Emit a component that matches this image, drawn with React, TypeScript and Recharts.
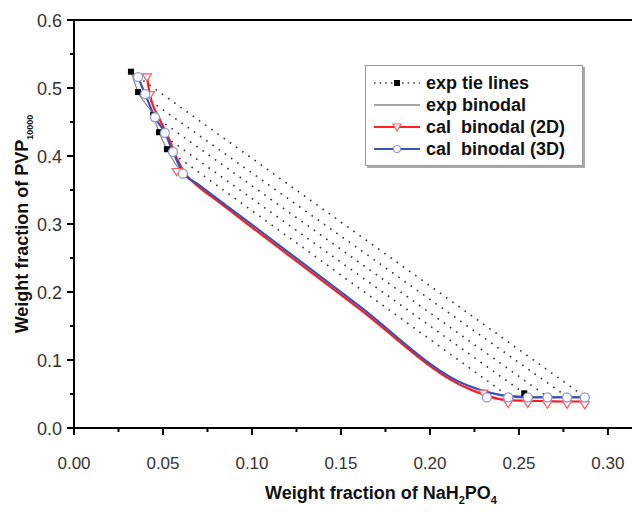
import React from 'react';
import { ComposedChart, Line, Scatter, XAxis, YAxis, ReferenceLine, Legend } from 'recharts';

const FONT = '"Liberation Sans", Arial, sans-serif';

// axis ticks
const xAllTicks = [0, 0.025, 0.05, 0.075, 0.1, 0.125, 0.15, 0.175, 0.2, 0.225, 0.25, 0.275, 0.3, 0.325];
const yAllTicks = [0, 0.05, 0.1, 0.15, 0.2, 0.25, 0.3, 0.35, 0.4, 0.45, 0.5, 0.55, 0.6];

// exp tie lines (top phase / bottom phase)
const tieTopX = [0.032, 0.036, 0.0444, 0.0478, 0.0522];
const tieTopY = [0.524, 0.494, 0.46, 0.435, 0.41];
const tieBotX = [0.287, 0.277, 0.266, 0.253, 0.244];
const tieBotY = [0.046, 0.046, 0.046, 0.051, 0.047];

// exp binodal
const expBinX = [0.032, 0.036, 0.0444, 0.0478, 0.0522, 0.06, 0.07, 0.08, 0.101, 0.158, 0.221, 0.243, 0.253, 0.266, 0.277, 0.287];
const expBinY = [0.524, 0.494, 0.46, 0.435, 0.41, 0.378, 0.358, 0.338, 0.297, 0.184, 0.063, 0.048, 0.047, 0.046, 0.046, 0.046];

// calculated binodal (2D)
const red2DX = [0.041, 0.0427, 0.048, 0.053, 0.0577, 0.062, 0.07, 0.08, 0.101, 0.158, 0.2215, 0.243, 0.255, 0.266, 0.277, 0.287];
const red2DY = [0.516, 0.49, 0.455, 0.428, 0.397, 0.376, 0.355, 0.335, 0.293, 0.18, 0.058, 0.041, 0.04, 0.0395, 0.039, 0.039];
const red2DMarkX = [0.041, 0.0427, 0.0577, 0.23, 0.244, 0.255, 0.266, 0.277, 0.287];
const red2DMarkY = [0.516, 0.49, 0.377, 0.051, 0.036, 0.036, 0.035, 0.035, 0.034];

// calculated binodal (3D)
const blue3DX = [0.036, 0.04, 0.0455, 0.0511, 0.0556, 0.0612, 0.07, 0.08, 0.101, 0.158, 0.2215, 0.243, 0.255, 0.266, 0.277, 0.287];
const blue3DY = [0.516, 0.491, 0.457, 0.434, 0.406, 0.376, 0.358, 0.338, 0.297, 0.184, 0.062, 0.047, 0.045, 0.045, 0.045, 0.045];
const blue3DMarkX = [0.036, 0.04, 0.0455, 0.0511, 0.0556, 0.0612, 0.232, 0.244, 0.255, 0.266, 0.277, 0.287];
const blue3DMarkY = [0.516, 0.491, 0.457, 0.434, 0.406, 0.374, 0.045, 0.045, 0.045, 0.045, 0.045, 0.045];

const zip = (xs: number[], ys: number[]) => xs.map((x, i) => ({ x, y: ys[i] }));

const tieLines = tieTopX.map((_, i) => [
  { x: tieTopX[i], y: tieTopY[i] },
  { x: tieBotX[i], y: tieBotY[i] },
]);
const expSquares = [...zip(tieTopX, tieTopY), ...zip(tieBotX, tieBotY)];

const TICK_SIZE = 8;
const TICK_MARGIN = 2;

const isMajor = (v: number, step: number) => Math.abs(v / step - Math.round(v / step)) < 1e-6;

const XTick = (props: any) => {
  const { x, y, payload } = props;
  const axisY = y - TICK_SIZE - TICK_MARGIN;
  const major = isMajor(payload.value, 0.05);
  return (
    <g>
      <line x1={x} x2={x} y1={axisY} y2={axisY + (major ? 7 : 4)} stroke="#000" strokeWidth={2} />
      {major && (
        <text x={x} y={axisY + 41} textAnchor="middle" fontFamily={FONT} fontSize={17} fill="#333">
          {payload.value.toFixed(2)}
        </text>
      )}
    </g>
  );
};

const YTick = (props: any) => {
  const { x, y, payload } = props;
  const axisX = x + TICK_SIZE + TICK_MARGIN;
  const major = isMajor(payload.value, 0.1);
  return (
    <g>
      <line x1={axisX} x2={axisX - (major ? 7 : 4)} y1={y} y2={y} stroke="#000" strokeWidth={2} />
      {major && (
        <text x={axisX - 12} y={y + 6.5} textAnchor="end" fontFamily={FONT} fontSize={18} fill="#333">
          {payload.value.toFixed(1)}
        </text>
      )}
    </g>
  );
};

const XTitle = (props: any) => {
  const vb = props.viewBox || {};
  const cx = vb.x + vb.width / 2;
  const baseY = vb.y + 71;
  return (
    <text x={cx} y={baseY} textAnchor="middle" fontFamily={FONT} fontWeight="bold" fontSize={18} fill="#111">
      Weight fraction of NaH
      <tspan fontSize={11} dy={5}>2</tspan>
      <tspan dy={-5}>PO</tspan>
      <tspan fontSize={11} dy={5}>4</tspan>
    </text>
  );
};

const YTitle = (props: any) => {
  const vb = props.viewBox || {};
  const cy = vb.y + vb.height / 2;
  const bx = 28;
  return (
    <text
      x={bx}
      y={cy}
      transform={`rotate(-90 ${bx} ${cy})`}
      textAnchor="middle"
      fontFamily={FONT}
      fontWeight="bold"
      fontSize={18}
      fill="#111"
    >
      Weight fraction of PVP
      <tspan fontSize={9} dy={5}>10000</tspan>
    </text>
  );
};

const Square = (props: any) => {
  const { cx, cy } = props;
  return <rect x={cx - 3} y={cy - 3} width={6} height={6} fill="#000" />;
};

const Tri = (props: any) => {
  const { cx, cy } = props;
  const s = 4.5;
  return (
    <polygon
      points={`${cx - s},${cy - s * 0.7} ${cx + s},${cy - s * 0.7} ${cx},${cy + s * 0.9}`}
      fill="#fff"
      stroke="#ff5a5a"
      strokeWidth={1.2}
    />
  );
};

const Circ = (props: any) => {
  const { cx, cy } = props;
  return <circle cx={cx} cy={cy} r={4.5} fill="#fff" stroke="#8898e0" strokeWidth={1.3} />;
};

const legendRows = [
  { label: 'exp tie lines', kind: 'tie' },
  { label: 'exp binodal', kind: 'bin' },
  { label: 'cal  binodal (2D)', kind: 'red' },
  { label: 'cal  binodal (3D)', kind: 'blue' },
];

const LegendIcon = ({ kind }: { kind: string }) => {
  return (
    <svg width={48} height={14} style={{ display: 'block' }}>
      {kind === 'tie' && (
        <>
          <line x1={1} x2={47} y1={7} y2={7} stroke="#444" strokeWidth={1.6} strokeDasharray="1.6 4" />
          <rect x={21} y={4} width={6} height={6} fill="#000" />
        </>
      )}
      {kind === 'bin' && <line x1={1} x2={47} y1={7} y2={7} stroke="#888" strokeWidth={1.4} />}
      {kind === 'red' && (
        <>
          <line x1={1} x2={47} y1={7} y2={7} stroke="#ff2020" strokeWidth={2} />
          <polygon points="20,4 28,4 24,11" fill="#fff" stroke="#ff5a5a" strokeWidth={1.2} />
        </>
      )}
      {kind === 'blue' && (
        <>
          <line x1={1} x2={47} y1={7} y2={7} stroke="#3a52b8" strokeWidth={2} />
          <circle cx={24} cy={7} r={3.5} fill="#fff" stroke="#8898e0" strokeWidth={1.2} />
        </>
      )}
    </svg>
  );
};

const LegendBox = () => (
  <div
    style={{
      border: '1px solid #999',
      boxShadow: '2px 2px 0 #aaa',
      background: '#fff',
      padding: '6px 6px 5px 7px',
      fontFamily: FONT,
      fontWeight: 'bold',
      fontSize: 18,
      color: '#111',
      boxSizing: 'border-box',
      width: 218,
    }}
  >
    {legendRows.map((r) => (
      <div key={r.label} style={{ display: 'flex', alignItems: 'center', height: 22, whiteSpace: 'pre' }}>
        <LegendIcon kind={r.kind} />
        <span style={{ marginLeft: 5 }}>{r.label}</span>
      </div>
    ))}
  </div>
);

export default function App() {
  return (
    <div style={{ position: 'absolute', left: 0, top: 0, width: 632, height: 521, overflow: 'hidden', background: '#fff' }}>
      <ComposedChart width={688} height={521} margin={{ top: 20, right: 0, bottom: 0, left: 0 }}>
        <XAxis
          type="number"
          dataKey="x"
          domain={[0, 0.345]}
          ticks={xAllTicks}
          interval={0}
          allowDataOverflow
          height={93}
          tickSize={TICK_SIZE}
          tickMargin={TICK_MARGIN}
          tickLine={false}
          axisLine={{ stroke: '#000', strokeWidth: 2 }}
          tick={<XTick />}
          label={<XTitle />}
        />
        <YAxis
          type="number"
          dataKey="y"
          domain={[0, 0.6]}
          ticks={yAllTicks}
          interval={0}
          allowDataOverflow
          width={74}
          tickSize={TICK_SIZE}
          tickMargin={TICK_MARGIN}
          tickLine={false}
          axisLine={{ stroke: '#000', strokeWidth: 2 }}
          tick={<YTick />}
          label={<YTitle />}
        />
        <ReferenceLine y={0.6} stroke="#000" strokeWidth={2} />
        {tieLines.map((d, i) => (
          <Line
            key={'tie' + i}
            data={d}
            dataKey="y"
            type="linear"
            stroke="#333"
            strokeWidth={1.6}
            strokeDasharray="1.6 6"
            dot={false}
            isAnimationActive={false}
            legendType="none"
          />
        ))}
        <Line data={zip(expBinX, expBinY)} dataKey="y" type="monotone" stroke="#888" strokeWidth={1.2} dot={false} isAnimationActive={false} />
        <Line data={zip(red2DX, red2DY)} dataKey="y" type="monotone" stroke="#ff1a1a" strokeWidth={2.2} dot={false} isAnimationActive={false} />
        <Line data={zip(blue3DX, blue3DY)} dataKey="y" type="monotone" stroke="#3a52b8" strokeWidth={2.2} dot={false} isAnimationActive={false} />
        <Scatter data={expSquares} dataKey="y" shape={<Square />} isAnimationActive={false} />
        <Scatter data={zip(red2DMarkX, red2DMarkY)} dataKey="y" shape={<Tri />} isAnimationActive={false} />
        <Scatter data={zip(blue3DMarkX, blue3DMarkY)} dataKey="y" shape={<Circ />} isAnimationActive={false} />
        <Legend
          layout="vertical"
          align="center"
          verticalAlign="middle"
          content={<LegendBox />}
          wrapperStyle={{ left: 365, top: 65, width: 218 }}
        />
      </ComposedChart>
    </div>
  );
}
